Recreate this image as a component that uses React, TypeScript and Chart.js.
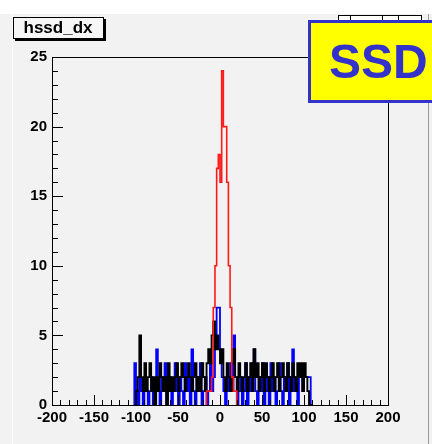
import React, { useEffect, useRef } from "react";
import { Chart, registerables } from "chart.js";

Chart.register(...registerables);

// ---- data ----
const TITLE = "hssd_dx";
const BADGE = "SSD";
const BIN_WIDTH = 2;
const X_MIN = -200;
const X_MAX = 200;
const Y_MIN = 0;
const Y_MAX = 25;
const X_TICK_STEP = 50;
const Y_TICK_STEP = 5;

const redStart = -16;
const redCounts = [1, 1, 1, 2, 7, 10, 17, 18, 16, 24, 20, 20, 16, 10, 7, 2, 1, 1];

const blackStart = -100;
const blackCounts = [
  1, 2, 5, 2, 1, 3, 1, 2, 3, 1, 2, 0, 2, 1, 3, 2, 1, 2, 0, 3,
  1, 2, 1, 2, 3, 1, 2, 3, 2, 1, 2, 3, 2, 1, 2, 3, 1, 2, 1, 3,
  2, 1, 3, 4, 3, 5, 6, 4, 5, 4, 3, 4, 2, 1, 3, 2, 1, 3, 4, 2,
  1, 3, 2, 1, 2, 3, 1, 2, 3, 1, 4, 2, 3, 1, 2, 3, 1, 3, 2, 1,
  2, 3, 1, 2, 3, 1, 2, 3, 2, 1, 3, 2, 1, 3, 2, 1, 3, 2, 3, 1,
  3, 2, 1, 0, 0,
];

const blueStart = -102;
const blueCounts = [
  3, 1, 0, 2, 1, 0, 2, 1, 0, 1, 2, 0, 1, 4, 1, 0, 2, 1, 3, 0,
  1, 2, 0, 1, 3, 1, 0, 2, 1, 0, 3, 1, 2, 0, 4, 1, 0, 2, 1, 3,
  0, 1, 2, 0, 1, 3, 1, 2, 5, 7, 7, 4, 2, 1, 0, 2, 1, 3, 1, 5,
  2, 0, 1, 2, 0, 1, 3, 0, 2, 1, 3, 4, 1, 0, 2, 1, 3, 0, 1, 2,
  0, 3, 1, 2, 0, 1, 3, 1, 0, 2, 1, 3, 0, 2, 4, 1, 2, 0, 2, 2,
  1, 2, 2, 2, 2, 0,
];

// ---- helpers ----
function histPoints(start: number, counts: number[]) {
  const pts: { x: number; y: number }[] = [{ x: start, y: 0 }];
  counts.forEach((c, i) => pts.push({ x: start + i * BIN_WIDTH, y: c }));
  pts.push({ x: start + counts.length * BIN_WIDTH, y: 0 });
  return pts;
}

const FONT = "'Liberation Sans', Arial, Helvetica, sans-serif";

const decorPlugin = {
  id: "rootDecor",
  beforeDraw(chart: any) {
    const ctx = chart.ctx;
    const W = chart.width;
    const H = chart.height;
    ctx.save();
    ctx.fillStyle = "#f2f2f2";
    ctx.fillRect(0, 0, W, H);
    ctx.fillStyle = "#ffffff";
    ctx.fillRect(0, 0, W, 14);
    ctx.fillStyle = "#fbfbfb";
    ctx.fillRect(12, 14, 1, H - 14);
    ctx.fillStyle = "#9a9a9a";
    ctx.fillRect(428, 14, 1, H - 14);
    ctx.restore();
  },
  afterDraw(chart: any) {
    const ctx = chart.ctx;
    const { left, right, top, bottom } = chart.chartArea;
    const xs = chart.scales.x;
    const ys = chart.scales.y;
    ctx.save();
    ctx.strokeStyle = "#000000";
    ctx.lineWidth = 1;
    // frame top and right
    ctx.beginPath();
    ctx.moveTo(left, Math.round(top) + 0.5);
    ctx.lineTo(right, Math.round(top) + 0.5);
    ctx.moveTo(Math.round(right) + 0.5, top);
    ctx.lineTo(Math.round(right) + 0.5, bottom);
    ctx.stroke();
    // y ticks (inside)
    ctx.beginPath();
    for (let v = Y_MIN; v <= Y_MAX; v += 1) {
      const y = Math.round(ys.getPixelForValue(v)) + 0.5;
      const len = v % Y_TICK_STEP === 0 ? 11 : 6;
      ctx.moveTo(left, y);
      ctx.lineTo(left + len, y);
    }
    // x ticks (inside)
    for (let v = X_MIN; v <= X_MAX; v += 10) {
      const x = Math.round(xs.getPixelForValue(v)) + 0.5;
      const len = v % X_TICK_STEP === 0 ? 10 : 5;
      ctx.moveTo(x, bottom);
      ctx.lineTo(x, bottom - len);
    }
    ctx.stroke();

    // title box
    ctx.fillStyle = "#000";
    ctx.fillRect(15, 19, 91, 22);
    ctx.fillStyle = "#f6f6f6";
    ctx.fillRect(13, 17, 91, 22);
    ctx.strokeStyle = "#000";
    ctx.strokeRect(13.5, 17.5, 90, 21);
    ctx.fillStyle = "#000";
    ctx.font = `bold 17px ${FONT}`;
    ctx.textAlign = "center";
    ctx.textBaseline = "middle";
    ctx.fillText(TITLE, 58, 28.5);

    // stats box (hidden behind badge)
    ctx.fillStyle = "#ffffff";
    ctx.fillRect(338, 15, 83, 7);
    ctx.strokeStyle = "#000";
    ctx.strokeRect(338.5, 15.5, 83, 7);
    ctx.beginPath();
    [350, 382, 398].forEach((x) => {
      ctx.moveTo(x + 0.5, 15);
      ctx.lineTo(x + 0.5, 22);
    });
    ctx.stroke();

    // SSD badge
    ctx.fillStyle = "#ffff00";
    ctx.fillRect(308, 20, 130, 83);
    ctx.strokeStyle = "#3333cc";
    ctx.lineWidth = 3;
    ctx.strokeRect(309.5, 21.5, 130, 80);
    ctx.fillStyle = "#3333cc";
    ctx.font = `bold 48px ${FONT}`;
    ctx.textAlign = "left";
    ctx.textBaseline = "alphabetic";
    ctx.fillText(BADGE, 329, 78);
    ctx.restore();
  },
};

export default function App() {
  const ref = useRef<HTMLCanvasElement | null>(null);
  useEffect(() => {
    if (!ref.current) return;
    const chart = new Chart(ref.current, {
      type: "line",
      data: {
        datasets: [
          {
            label: "red",
            data: histPoints(redStart, redCounts),
            borderColor: "#ff1a1a",
            borderWidth: 1.6,
            pointRadius: 0,
            stepped: true,
            fill: false,
          },
          {
            label: "black",
            data: histPoints(blackStart, blackCounts),
            borderColor: "#000000",
            borderWidth: 1.9,
            pointRadius: 0,
            stepped: true,
            fill: false,
          },
          {
            label: "blue",
            data: histPoints(blueStart, blueCounts),
            borderColor: "#0000ff",
            borderWidth: 1.8,
            pointRadius: 0,
            stepped: true,
            fill: false,
          },
        ],
      },
      options: {
        responsive: false,
        animation: false,
        layout: { padding: { left: 0, top: 57, right: 44, bottom: 0 } },
        plugins: {
          legend: { display: false },
          tooltip: { enabled: false },
          title: { display: false },
        },
        scales: {
          x: {
            type: "linear",
            min: X_MIN,
            max: X_MAX,
            grid: { display: false, drawTicks: false },
            border: { display: true, color: "#000", width: 1 },
            ticks: {
              stepSize: X_TICK_STEP,
              color: "#000",
              font: { family: FONT, size: 15, weight: "bold" },
              padding: 4,
              maxRotation: 0,
              autoSkip: false,
            },
            afterFit(scale: any) {
              scale.height = 39;
            },
          },
          y: {
            type: "linear",
            min: Y_MIN,
            max: Y_MAX,
            grid: { display: false, drawTicks: false },
            border: { display: true, color: "#000", width: 1 },
            ticks: {
              stepSize: Y_TICK_STEP,
              color: "#000",
              font: { family: FONT, size: 15, weight: "bold" },
              padding: 5,
            },
            afterFit(scale: any) {
              scale.width = 52;
            },
          },
        },
      },
      plugins: [decorPlugin],
    });
    return () => chart.destroy();
  }, []);
  return (
    <div style={{ position: "fixed", left: 0, top: 0, width: 432, height: 444 }}>
      <canvas ref={ref} width={432} height={444} style={{ display: "block" }} />
    </div>
  );
}
